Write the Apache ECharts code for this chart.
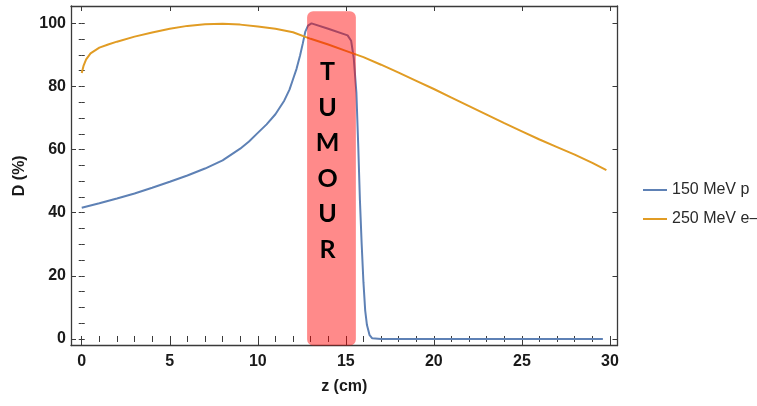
<!DOCTYPE html>
<html>
<head>
<meta charset="utf-8">
<script src="https://cdn.jsdelivr.net/npm/echarts@6/dist/echarts.min.js"></script>
<style>
  html, body { margin: 0; padding: 0; background: #fff; }
  #chart { width: 757px; height: 406px; }
</style>
</head>
<body>
<div id="chart"></div>
<script>
// Depth-dose curves: 150 MeV proton beam vs 250 MeV electron beam
const protonDose = [
  [0, 41.6], [1, 43.0], [2, 44.5], [3, 46.1], [4, 47.9], [5, 49.8],
  [6, 51.8], [7, 54.0], [8, 56.6], [9, 60.3], [9.5, 62.6], [10, 65.3],
  [10.5, 68.0], [11, 71.2], [11.5, 75.5], [11.8, 79.0], [12.0, 82.3],
  [12.2, 85.6], [12.4, 89.8], [12.55, 93.5], [12.7, 97.4], [12.85, 99.3],
  [13.05, 100], [14, 98.3], [15.1, 96.2], [15.3, 94.5], [15.45, 89.0],
  [15.6, 78.0], [15.7, 62.0], [15.8, 44.0], [15.9, 30.0], [16.0, 18.0],
  [16.1, 9.0], [16.2, 4.4], [16.35, 1.2], [16.5, 0.2], [17, 0], [29.6, 0]
];
const electronDose = [
  [0, 84.3], [0.1, 86.5], [0.25, 88.6], [0.5, 90.5], [1, 92.3],
  [1.5, 93.3], [2, 94.2], [3, 95.8], [4, 97.1], [5, 98.3], [6, 99.2],
  [7, 99.7], [8, 99.9], [9, 99.6], [10, 99.0], [11, 98.3], [12, 97.2],
  [13, 95.1], [14, 93.3], [15, 91.3], [16, 89.3], [17, 86.9], [18, 84.4],
  [19, 81.8], [20, 79.2], [21, 76.5], [22, 73.8], [23, 71.1], [24, 68.4],
  [25, 65.8], [26, 63.2], [27, 60.8], [28, 58.4], [29, 55.8], [29.8, 53.5]
];
const seriesNames = ['150 MeV p', '250 MeV e\u2013'];
// Tumour region along z (cm) and its top edge in D (%)
const tumourZ = [12.8, 15.57];
const tumourTop = 103.8;
const tumourLabel = 'TUMOUR';

const xTicks = [0, 5, 10, 15, 20, 25, 30];
const xMinorTicks = Array.from({ length: 31 }, (_, i) => i);
const yTicks = [0, 20, 40, 60, 80, 100];
const yMinorTicks = Array.from({ length: 21 }, (_, i) => i * 5);

const X_MIN = -0.61, X_MAX = 30.43;
const Y_MIN = -2.06, Y_MAX = 105.5;

const frameColor = '#3a3a3a';
const labelFont = {
  fontFamily: 'Liberation Sans', fontWeight: 'bold', fontSize: 16, color: '#1a1a1a'
};

function axisBase(extra) {
  return Object.assign({
    type: 'value',
    splitLine: { show: false },
    axisLine: { show: true, onZero: false, lineStyle: { color: frameColor, width: 1.3 } },
    axisLabel: { show: false },
    axisTick: { show: false }
  }, extra);
}
function tickSet(values, len) {
  return { show: true, inside: true, length: len, customValues: values,
           lineStyle: { color: frameColor, width: 1 } };
}

const xAxes = [
  axisBase({
    min: X_MIN, max: X_MAX, position: 'bottom',
    axisTick: tickSet(xTicks, 5),
    axisLabel: Object.assign({ show: true, customValues: xTicks, margin: 8 }, labelFont),
    name: 'z (cm)', nameLocation: 'middle', nameGap: 33,
    nameTextStyle: Object.assign({}, labelFont)
  }),
  axisBase({ min: X_MIN, max: X_MAX, position: 'bottom', axisLine: { show: false },
             axisTick: tickSet(xMinorTicks, 3) }),
  axisBase({ min: X_MIN, max: X_MAX, position: 'top', axisTick: tickSet(xTicks, 5) }),
  axisBase({ min: X_MIN, max: X_MAX, position: 'top', axisLine: { show: false },
             axisTick: tickSet(xMinorTicks, 3) })
];
const yAxes = [
  axisBase({
    min: Y_MIN, max: Y_MAX, position: 'left',
    axisTick: tickSet(yTicks, 5),
    axisLabel: Object.assign({ show: true, customValues: yTicks, margin: 5 }, labelFont),
    name: 'D (%)', nameLocation: 'middle', nameGap: 43, nameRotate: 90,
    nameTextStyle: Object.assign({}, labelFont)
  }),
  axisBase({ min: Y_MIN, max: Y_MAX, position: 'left', axisLine: { show: false },
             axisTick: tickSet(yMinorTicks, 3) }),
  axisBase({ min: Y_MIN, max: Y_MAX, position: 'right', axisTick: tickSet(yTicks, 5) }),
  axisBase({ min: Y_MIN, max: Y_MAX, position: 'right', axisLine: { show: false },
             axisTick: tickSet(yMinorTicks, 3) })
];

const chart = echarts.init(document.getElementById('chart'), null, { renderer: 'canvas' });
chart.setOption({
  backgroundColor: '#ffffff',
  animation: false,
  grid: { left: 71, right: 139.5, top: 6, bottom: 60.5, containLabel: false, outerBoundsMode: 'none' },
  xAxis: xAxes,
  yAxis: yAxes,
  legend: {
    orient: 'vertical', left: 638, top: 176,
    icon: 'rect', itemWidth: 24, itemHeight: 2, itemGap: 11,
    data: seriesNames,
    textStyle: { fontFamily: 'Liberation Sans', fontSize: 16, lineHeight: 18, color: '#2a2a2a' }
  },
  series: [
    {
      name: seriesNames[0], type: 'line', data: protonDose, symbol: 'none',
      lineStyle: { color: '#5E81B5', width: 2 }, itemStyle: { color: '#5E81B5' }, z: 2
    },
    {
      name: seriesNames[1], type: 'line', data: electronDose, symbol: 'none',
      lineStyle: { color: '#E19C24', width: 2 }, itemStyle: { color: '#E19C24' }, z: 2
    },
    {
      // translucent tumour band drawn over the dose curves, with its vertical label
      type: 'custom', z: 10, clip: false, silent: true,
      data: [[tumourZ[0], tumourZ[1], tumourTop]],
      renderItem: function (params, api) {
        const p0 = api.coord([api.value(0), api.value(2)]);
        const p1 = api.coord([api.value(1), Y_MIN]);
        const cx = (p0[0] + p1[0]) / 2 - 4;
        return {
          type: 'group',
          children: [
            {
              type: 'rect',
              shape: { x: p0[0], y: p0[1], width: p1[0] - p0[0], height: p1[1] - p0[1], r: 6 },
              style: { fill: 'rgba(255,0,0,0.46)' }
            },
            {
              type: 'text',
              x: cx, y: p0[1] + 43,
              style: {
                text: tumourLabel.split('').join('\n'),
                fontFamily: 'Lato', fontWeight: 'bold', fontSize: 25,
                lineHeight: 35.5, fill: '#000', align: 'center', verticalAlign: 'top'
              }
            }
          ]
        };
      }
    }
  ]
});
</script>
</body>
</html>
